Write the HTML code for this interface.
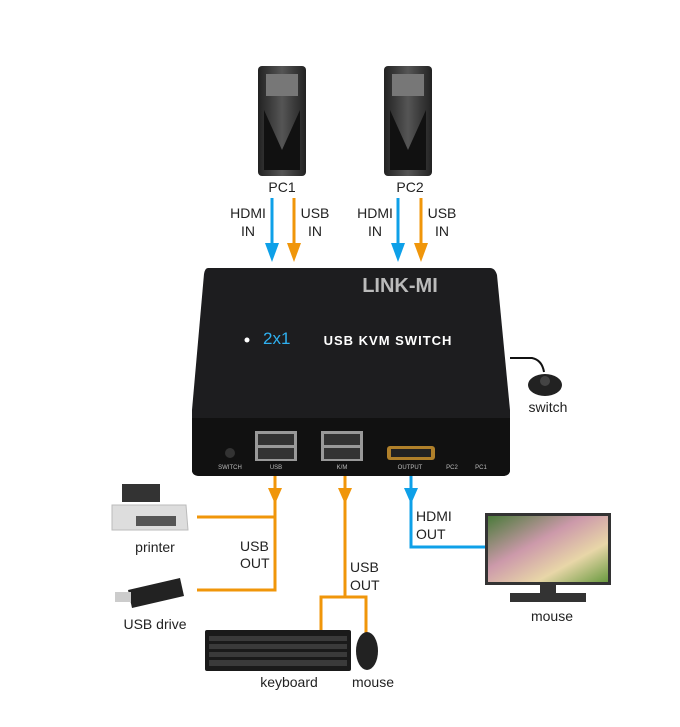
<!DOCTYPE html>
<html><head><style>
body{margin:0;background:#fff;}
svg text{font-family:"Liberation Sans",sans-serif;}
</style></head><body>
<svg width="680" height="722" viewBox="0 0 680 722" xmlns="http://www.w3.org/2000/svg">
<defs>
<linearGradient id="tw" x1="0" x2="1"><stop offset="0" stop-color="#222"/><stop offset="0.5" stop-color="#555"/><stop offset="1" stop-color="#222"/></linearGradient>
<linearGradient id="scr" x1="0" y1="0" x2="1" y2="1"><stop offset="0" stop-color="#4a7a3a"/><stop offset="0.4" stop-color="#c9a"/><stop offset="0.7" stop-color="#e8d6a8"/><stop offset="1" stop-color="#6a9a40"/></linearGradient>
</defs>
<!-- PC towers -->
<g>
<rect x="258" y="66" width="48" height="110" rx="4" fill="url(#tw)"/>
<path d="M264 110 L282 150 L300 110 L300 170 L264 170Z" fill="#111"/>
<rect x="266" y="74" width="32" height="22" fill="#777"/>
<rect x="384" y="66" width="48" height="110" rx="4" fill="url(#tw)"/>
<path d="M390 110 L408 150 L426 110 L426 170 L390 170Z" fill="#111"/>
<rect x="392" y="74" width="32" height="22" fill="#777"/>
</g>
<text x="282" y="192" font-size="14" text-anchor="middle" fill="#222">PC1</text>
<text x="410" y="192" font-size="14" text-anchor="middle" fill="#222">PC2</text>
<g font-size="14" fill="#222" text-anchor="middle">
<text x="248" y="218">HDMI</text><text x="248" y="236">IN</text>
<text x="315" y="218">USB</text><text x="315" y="236">IN</text>
<text x="375" y="218">HDMI</text><text x="375" y="236">IN</text>
<text x="442" y="218">USB</text><text x="442" y="236">IN</text>
</g>
<g stroke-width="3">
<line x1="272" y1="198" x2="272" y2="248" stroke="#0ea0e8"/>
<line x1="294" y1="198" x2="294" y2="248" stroke="#f0960a"/>
<line x1="398" y1="198" x2="398" y2="248" stroke="#0ea0e8"/>
<line x1="421" y1="198" x2="421" y2="248" stroke="#f0960a"/>
</g>
<polygon points="265,243 279,243 272,262" fill="#0ea0e8"/>
<polygon points="287,243 301,243 294,262" fill="#f0960a"/>
<polygon points="391,243 405,243 398,262" fill="#0ea0e8"/>
<polygon points="414,243 428,243 421,262" fill="#f0960a"/>
<!-- switch box -->
<path d="M208 268 L490 268 Q495 268 497 275 L510 410 L510 470 Q510 476 502 476 L200 476 Q192 476 192 470 L192 410 L204 274 Q205 268 208 268Z" fill="#1d1d1f"/>
<path d="M192 418 L510 418 L510 470 Q510 476 502 476 L200 476 Q192 476 192 470Z" fill="#111"/>
<text x="400" y="292" font-size="20" font-weight="bold" fill="#bbb" text-anchor="middle">LINK-MI</text>
<text x="263" y="344" font-size="17" fill="#2fb0f0">2x1</text>
<circle cx="247" cy="340" r="2.5" fill="#fff"/>
<text x="388" y="345" font-size="13" font-weight="bold" fill="#fff" text-anchor="middle" letter-spacing="1">USB  KVM  SWITCH</text>
<rect x="255" y="431" width="42" height="30" fill="#999"/>
<rect x="321" y="431" width="42" height="30" fill="#999"/>
<rect x="258" y="434" width="36" height="11" fill="#333"/><rect x="258" y="448" width="36" height="11" fill="#333"/>
<rect x="324" y="434" width="36" height="11" fill="#333"/><rect x="324" y="448" width="36" height="11" fill="#333"/>
<rect x="387" y="446" width="48" height="14" rx="3" fill="#b0802a"/>
<rect x="391" y="449" width="40" height="8" fill="#222"/>
<circle cx="230" cy="453" r="5" fill="#333"/>
<g font-size="6" fill="#bbb" text-anchor="middle">
<text x="230" y="469">SWITCH</text><text x="276" y="469">USB</text><text x="342" y="469">K/M</text><text x="410" y="469">OUTPUT</text><text x="452" y="469">PC2</text><text x="481" y="469">PC1</text>
</g>
<!-- switch cable -->
<path d="M510 358 L532 358 Q542 360 544 372" stroke="#111" stroke-width="2" fill="none"/>
<ellipse cx="545" cy="385" rx="17" ry="11" fill="#222"/>
<circle cx="545" cy="381" r="5" fill="#444"/>
<text x="548" y="412" font-size="14" fill="#222" text-anchor="middle">switch</text>
<!-- lower connectors -->
<g stroke="#f0960a" stroke-width="3" fill="none">
<path d="M275 476 L275 590 L197 590"/>
<path d="M197 517 L275 517"/>
<path d="M345 476 L345 597"/>
<path d="M321 630 L321 597 L366 597 L366 633"/>
</g>
<path d="M411 476 L411 547 L485 547" stroke="#0ea0e8" stroke-width="3" fill="none"/>
<polygon points="268,488 282,488 275,504" fill="#f0960a"/>
<polygon points="338,488 352,488 345,504" fill="#f0960a"/>
<polygon points="404,488 418,488 411,504" fill="#0ea0e8"/>
<g font-size="14" fill="#222">
<text x="240" y="551">USB</text><text x="240" y="568">OUT</text>
<text x="350" y="572">USB</text><text x="350" y="590">OUT</text>
<text x="416" y="521">HDMI</text><text x="416" y="539">OUT</text>
</g>
<!-- printer -->
<rect x="122" y="484" width="38" height="18" fill="#333"/>
<path d="M112 505 L186 505 L188 530 L112 530Z" fill="#ddd" stroke="#bbb"/>
<rect x="136" y="516" width="40" height="10" fill="#555"/>
<text x="155" y="552" font-size="14" fill="#222" text-anchor="middle">printer</text>
<!-- usb drive -->
<polygon points="128,590 180,578 184,596 132,608" fill="#222"/>
<rect x="115" y="592" width="16" height="10" fill="#ccc"/>
<text x="155" y="629" font-size="14" fill="#222" text-anchor="middle">USB drive</text>
<!-- monitor -->
<rect x="485" y="513" width="126" height="72" fill="#333"/>
<rect x="488" y="516" width="120" height="66" fill="url(#scr)"/>
<rect x="540" y="585" width="16" height="9" fill="#333"/>
<rect x="510" y="593" width="76" height="9" fill="#333"/>
<text x="552" y="621" font-size="14" fill="#222" text-anchor="middle">mouse</text>
<!-- keyboard -->
<rect x="205" y="630" width="146" height="41" rx="2" fill="#1a1a1a"/>
<g fill="#3a3a3a">
<rect x="209" y="636" width="138" height="5"/><rect x="209" y="644" width="138" height="5"/><rect x="209" y="652" width="138" height="5"/><rect x="209" y="660" width="138" height="6"/>
</g>
<ellipse cx="367" cy="651" rx="11" ry="19" fill="#222"/>
<text x="289" y="687" font-size="14" fill="#222" text-anchor="middle">keyboard</text>
<text x="373" y="687" font-size="14" fill="#222" text-anchor="middle">mouse</text>
</svg>
</body></html>
